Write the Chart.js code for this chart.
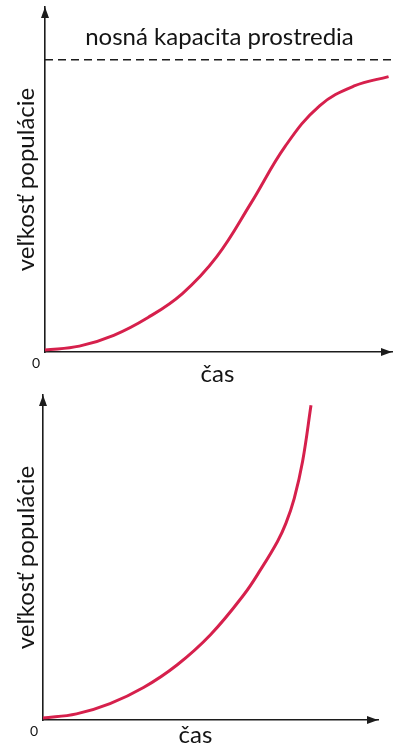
<!DOCTYPE html>
<html lang="sk">
<head>
<meta charset="utf-8">
<title>Rast populácie</title>
<script src="https://cdn.jsdelivr.net/npm/chart.js@4/dist/chart.umd.min.js"></script>
<style>
    html, body { margin: 0; padding: 0; background: #fff; }
    .graf { position: relative; width: 394px; }
</style>
</head>
<body>
<div class="graf" style="height:390px"><canvas id="logistickyRast"></canvas></div>
<div class="graf" style="height:354px"><canvas id="exponencialnyRast"></canvas></div>

<script>
// --------------------------------------------
// Údaje kriviek
// --------------------------------------------
// logistický rast (horný graf)
const casLogisticky = [0, 1, 2, 3, 4, 5, 6, 7, 8, 9, 10];
const velkostLogisticka = [0.7, 2.0, 5.7, 11.8, 20.0, 32.6, 51.0, 70.5, 84.3, 91.0, 94.2];
const nosnaKapacita = 100;

// exponenciálny rast (dolný graf)
const casExponencialny = [0, 1, 2, 3, 4, 5, 6, 6.5, 7, 7.25, 7.5, 7.75, 8];
const velkostExponencialna = [0.6, 1.9, 5.1, 10.1, 17.1, 26.5, 39.0, 46.8, 55.5, 61.1, 68.9, 80.4, 97.8];

// texty
const popisX = 'čas';
const popisY = 'veľkosť populácie';
const popisKapacity = 'nosná kapacita prostredia';
const popisNuly = '0';

const FARBA_KRIVKY = 'rgb(214, 32, 76)';
const FARBA_OSI = '#1c1c1c';
const FARBA_TEXTU = '#141414';
const PISMO = 'Lato, "Open Sans", sans-serif';

Chart.defaults.font.family = PISMO;

// šípky na osiach, nula v počiatku, popis osi x a nosnej kapacity
const doplnkyOsi = {
    id: 'doplnkyOsi',
    afterDraw(chart, args, opts) {
        const { ctx, chartArea: a } = chart;
        ctx.save();
        ctx.fillStyle = FARBA_OSI;

        // šípka osi y
        ctx.beginPath();
        ctx.moveTo(a.left, a.top);
        ctx.lineTo(a.left - 4, a.top + 11);
        ctx.lineTo(a.left + 4, a.top + 11);
        ctx.closePath();
        ctx.fill();

        // šípka osi x
        ctx.beginPath();
        ctx.moveTo(a.right, a.bottom);
        ctx.lineTo(a.right - 11, a.bottom - 4);
        ctx.lineTo(a.right - 11, a.bottom + 4);
        ctx.closePath();
        ctx.fill();

        ctx.fillStyle = FARBA_TEXTU;
        ctx.textAlign = 'center';

        // 0 v počiatku
        ctx.font = '14px ' + PISMO;
        ctx.textBaseline = 'middle';
        ctx.fillText(popisNuly, a.left - 9, a.bottom + 11);

        // popis osi x
        ctx.font = '24px ' + PISMO;
        ctx.textBaseline = 'alphabetic';
        ctx.fillText(popisX, (a.left + a.right) / 2 + opts.posunX, a.bottom + opts.odsadenieX);

        // popis nosnej kapacity nad prerušovanou čiarou
        if (opts.kapacita) {
            const y = chart.scales.y.getPixelForValue(opts.kapacita);
            ctx.font = '24px ' + PISMO;
            ctx.fillText(popisKapacity, (a.left + a.right) / 2 + 1, y - 15);
        }
        ctx.restore();
    }
};

function vytvorGraf(id, cas, velkost, nastavenia) {
    const datasets = [{
        label: popisY,
        data: cas.map((t, i) => ({ x: t, y: velkost[i] })),
        borderColor: FARBA_KRIVKY,
        borderWidth: 3,
        pointRadius: 0,
        tension: 0.4,
        clip: false
    }];

    if (nastavenia.kapacita) {
        datasets.push({
            label: popisKapacity,
            data: [{ x: 0, y: nastavenia.kapacita }, { x: nastavenia.xMax, y: nastavenia.kapacita }],
            borderColor: FARBA_OSI,
            borderWidth: 1.5,
            borderDash: [8, 5],
            pointRadius: 0
        });
    }

    return new Chart(document.getElementById(id), {
        type: 'line',
        data: { datasets: datasets },
        options: {
            responsive: true,
            maintainAspectRatio: false,
            devicePixelRatio: 1,
            animation: false,
            layout: { padding: nastavenia.okraj },
            plugins: {
                legend: { display: false },
                tooltip: { enabled: false },
                doplnkyOsi: {
                    posunX: nastavenia.posunX,
                    odsadenieX: nastavenia.odsadenieX,
                    kapacita: nastavenia.kapacita
                }
            },
            scales: {
                x: {
                    type: 'linear',
                    min: 0,
                    max: nastavenia.xMax,
                    ticks: { display: false },
                    grid: { display: false, drawTicks: false },
                    border: { display: true, color: FARBA_OSI, width: 1.6 },
                    afterFit: function (scale) { scale.height = nastavenia.vyskaOsiX; }
                },
                y: {
                    min: 0,
                    max: nastavenia.yMax,
                    ticks: { display: false },
                    grid: { display: false, drawTicks: false },
                    border: { display: true, color: FARBA_OSI, width: 1.6 },
                    title: {
                        display: true,
                        text: popisY,
                        color: FARBA_TEXTU,
                        font: { size: 24 },
                        padding: { top: 12, bottom: 0 }
                    },
                    afterFit: function (scale) { scale.width = nastavenia.sirkaOsiY; }
                }
            }
        },
        plugins: [doplnkyOsi]
    });
}

vytvorGraf('logistickyRast', casLogisticky, velkostLogisticka, {
    xMax: 10.1,
    yMax: 118,
    kapacita: nosnaKapacita,
    okraj: { top: 7, right: 2, left: 0, bottom: 0 },
    sirkaOsiY: 45,
    vyskaOsiX: 38,
    posunX: -1,
    odsadenieX: 30
});

vytvorGraf('exponencialnyRast', casExponencialny, velkostExponencialna, {
    xMax: 10,
    yMax: 101,
    kapacita: null,
    okraj: { top: 5, right: 16, left: 0, bottom: 0 },
    sirkaOsiY: 43,
    vyskaOsiX: 24,
    posunX: -15,
    odsadenieX: 23
});
</script>
</body>
</html>
